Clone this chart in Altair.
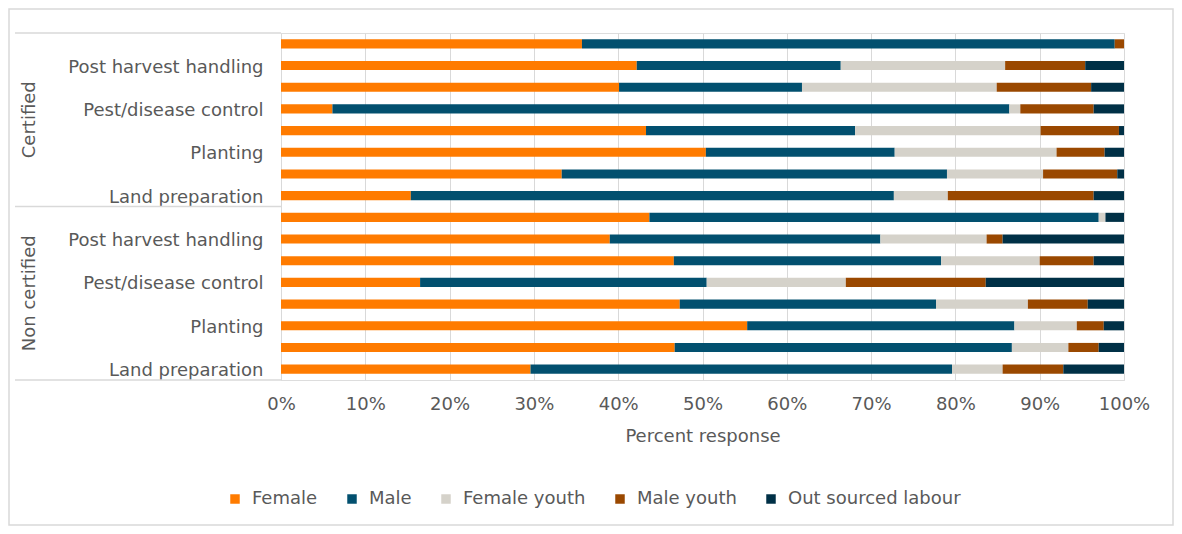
import altair as alt
import pandas as pd

groups = ["Certified", "Non certified"]
# activities from top to bottom within each group
activities = ["Marketing", "Post harvest handling", "Harvesting", "Pest/disease control",
              "Weeding", "Planting", "Nursery management", "Land preparation"]
shown = ["Post harvest handling", "Pest/disease control", "Planting", "Land preparation"]
series = ["Female", "Male", "Female youth", "Male youth", "Out sourced labour"]
colors = ["#FF7B00", "#02506F", "#D5D2CA", "#9A4800", "#003046"]

female = {
    "Certified":     [35.7, 42.2, 40.1, 6.1, 43.3, 50.4, 33.3, 15.4],
    "Non certified": [43.7, 39.0, 46.6, 16.5, 47.3, 55.3, 46.7, 29.6],
}
male = {
    "Certified":     [63.2, 24.2, 21.7, 80.3, 24.8, 22.4, 45.7, 57.3],
    "Non certified": [53.3, 32.1, 31.7, 34.0, 30.4, 31.7, 40.0, 50.0],
}
female_youth = {
    "Certified":     [0.0, 19.5, 23.1, 1.3, 22.0, 19.2, 11.4, 6.4],
    "Non certified": [0.8, 12.6, 11.7, 16.5, 10.9, 7.4, 6.7, 6.0],
}
male_youth = {
    "Certified":     [1.1, 9.5, 11.2, 8.7, 9.3, 5.7, 8.8, 17.3],
    "Non certified": [0.0, 1.9, 6.4, 16.6, 7.1, 3.2, 3.6, 7.2],
}
outsourced = {
    "Certified":     [0.0, 4.6, 3.9, 3.6, 0.6, 2.3, 0.8, 3.6],
    "Non certified": [2.2, 14.4, 3.6, 16.4, 4.3, 2.4, 3.0, 7.2],
}
x_ticks = [0, 10, 20, 30, 40, 50, 60, 70, 80, 90, 100]

table = [female, male, female_youth, male_youth, outsourced]
rows = []
order_keys = []
for g in groups:
    for i, a in enumerate(activities):
        key = g + "|" + a
        order_keys.append(key)
        for s_i, s in enumerate(series):
            rows.append({"key": key, "series": s, "order": s_i, "value": table[s_i][g][i]})
df = pd.DataFrame(rows)

W, H = 843, 347
PAD_L, PAD_T, PAD_R, PAD_B = 273, 25, 50, 146
FONT = "DejaVu Sans"
FS = 18
TXT = "#595959"
LINE = "#D9D9D9"

shown_js = "[" + ",".join("'" + s + "'" for s in shown) + "]"
label_expr = ("indexof(" + shown_js + ", split(datum.value,'|')[1]) >= 0 ? "
              "split(datum.value,'|')[1] : ''")

bars = alt.Chart(df).mark_bar().encode(
    y=alt.Y("key:N", sort=order_keys, title=None,
            scale=alt.Scale(paddingInner=0.58, paddingOuter=0.29),
            axis=alt.Axis(labelExpr=label_expr, ticks=False, tickSize=0, labelPadding=18,
                          labelOffset=2, labelLimit=0, domainColor=LINE, labelFont=FONT,
                          labelFontSize=FS, labelColor=TXT, grid=False)),
    x=alt.X("value:Q", stack="zero", title="Percent response",
            scale=alt.Scale(domain=[0, 100], nice=False),
            axis=alt.Axis(values=x_ticks, labelExpr="datum.value + '%'", domain=False,
                          ticks=False, tickSize=0, labelPadding=15, labelFlush=False,
                          gridColor=LINE,
                          labelFont=FONT, labelFontSize=FS, labelColor=TXT,
                          titleFont=FONT, titleFontSize=FS, titleColor=TXT,
                          titleFontWeight="normal", titlePadding=14)),
    color=alt.Color("series:N", sort=series,
                    scale=alt.Scale(domain=series, range=colors),
                    legend=alt.Legend(title=None, orient="none", direction="horizontal",
                                      legendX=-55, legendY=457, symbolType="square",
                                      symbolSize=90, symbolStrokeWidth=0, labelFont=FONT,
                                      labelFontSize=FS, labelColor=TXT, columnPadding=25,
                                      labelOffset=8, labelLimit=0, padding=0)),
    order=alt.Order("order:Q"),
)

one = pd.DataFrame({"d": [0]})

border = alt.Chart(one).mark_rect(fill="transparent", stroke=LINE, strokeWidth=1.5).encode(
    x=alt.value(-PAD_L + 1), x2=alt.value(W + PAD_R - 1),
    y=alt.value(-PAD_T + 1), y2=alt.value(H + PAD_B - 1))

layers = [border]
for yv in [0, H / 2, H]:
    layers.append(alt.Chart(one).mark_rule(color=LINE, strokeWidth=1.5).encode(
        x=alt.value(-266), x2=alt.value(0), y=alt.value(yv)))

for gi, g in enumerate(groups):
    layers.append(alt.Chart(pd.DataFrame({"t": [g]})).mark_text(
        angle=270, font=FONT, fontSize=FS, color=TXT, align="center", baseline="middle"
    ).encode(text="t:N", x=alt.value(-251), y=alt.value(H * (0.25 + 0.5 * gi))))

chart = alt.layer(*layers, bars).properties(
    width=W, height=H,
    autosize=alt.AutoSizeParams(type="none"),
    padding={"left": PAD_L, "top": PAD_T, "right": PAD_R, "bottom": PAD_B},
).configure_view(stroke=None).configure(background="white")

chart.save("out.html", embed_options={"renderer": "svg", "actions": False})
